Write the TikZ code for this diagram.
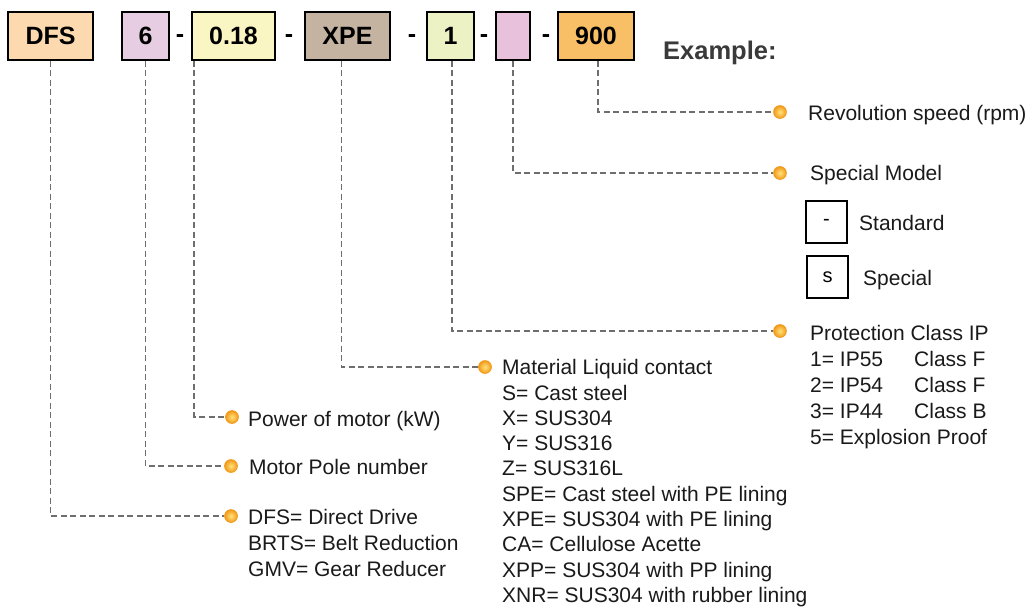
\documentclass[tikz,border=0pt]{standalone}
\usepackage{fontspec}
\setmainfont{Liberation Sans}
\usetikzlibrary{calc}
\definecolor{cDFS}{HTML}{FCD9AE}
\definecolor{cSix}{HTML}{E7CDE2}
\definecolor{cPow}{HTML}{FAF6C3}
\definecolor{cMat}{HTML}{C4B3A1}
\definecolor{cOne}{HTML}{ECF2C3}
\definecolor{cSpec}{HTML}{E8C2DD}
\definecolor{cRev}{HTML}{F8BF66}
\definecolor{connc}{HTML}{6E6E6E}
\definecolor{txtc}{HTML}{1A1A1A}
\definecolor{exc}{HTML}{3A3A3A}
\definecolor{dotin}{HTML}{FFE27A}
\definecolor{dotout}{HTML}{F29A1A}
\begin{document}
\begin{tikzpicture}[x=1pt,y=-1pt,
 codebox/.style={draw=black, line width=1.6pt, minimum height=48pt, inner sep=0pt, font=\fontsize{25}{29}\selectfont\bfseries},
 sepmark/.style={inner sep=0pt, anchor=base, font=\fontsize{25}{29}\selectfont\bfseries},
 conn/.style={draw=connc, line width=1.5pt, dash pattern=on 6pt off 3.5pt},
 dot/.style={circle, minimum size=13pt, inner sep=0pt, draw=dotout, line width=0.6pt, inner color=dotin, outer color=dotout},
 lbl/.style={inner sep=0pt, text=txtc, font=\fontsize{21}{25.8}\selectfont, align=left},
 optbox/.style={draw=black, line width=1.2pt, minimum width=41pt, minimum height=42pt, inner sep=0pt, font=\fontsize{20}{24}\selectfont}
]
\useasboundingbox[fill=white] (0,0) rectangle (1031,608);

% code boxes
\node[codebox, fill=cDFS, minimum width=85pt] (b1) at (50.5,36) {DFS};
\node[codebox, fill=cSix, minimum width=47pt] (b2) at (145.5,36) {6};
\node[codebox, fill=cPow, minimum width=83pt] (b3) at (233.5,36) {0.18};
\node[codebox, fill=cMat, minimum width=85pt] (b4) at (347.5,36) {XPE};
\node[codebox, fill=cOne, minimum width=47pt] (b5) at (450.5,36) {1};
\node[codebox, fill=cSpec, minimum width=34pt] (b6) at (513,36) {};
\node[codebox, fill=cRev, minimum width=76pt] (b7) at (596,36) {900};

% separators
\node[sepmark] (s1) at (180,42.5) {-};
\node[sepmark] (s2) at (289,42.5) {-};
\node[sepmark] (s3) at (412,42.5) {-};
\node[sepmark] (s4) at (484,42.5) {-};
\node[sepmark] (s5) at (546,42.5) {-};

\node[anchor=base west, inner sep=0pt, text=exc, font=\fontsize{25.5}{30}\selectfont\bfseries] (ex) at (663,59) {Example:};

% dots
\node[dot] (d1) at (231,516) {};
\node[dot] (d2) at (231,466) {};
\node[dot] (d3) at (232,417) {};
\node[dot] (d4) at (485,367) {};
\node[dot] (d5) at (780,331) {};
\node[dot] (d6) at (780,173) {};
\node[dot] (d7) at (780,112) {};

% connectors
\draw[conn] (b1.south) |- (d1);
\draw[conn] (b2.south) |- (d2);
\draw[conn] ([xshift=3pt]b3.south west) |- (d3);
\draw[conn] ([xshift=-6pt]b4.south) |- (d4);
\draw[conn] ([xshift=1.5pt]b5.south) |- (d5);
\draw[conn] (b6.south) |- (d6);
\draw[conn] ([xshift=2pt]b7.south) |- (d7);

% labels
\node[lbl, anchor=north west] (t1) at (248,506.4) {\strut DFS= Direct Drive\\BRTS= Belt Reduction\\GMV= Gear Reducer};
\node[lbl, anchor=base west] (t2) at (249,474.5) {Motor Pole number};
\node[lbl, anchor=base west] (t3) at (248,426.5) {Power of motor (kW)};
\node[lbl, anchor=north west, font=\fontsize{21}{25.3}\selectfont] (t4) at (502,356.8) {\strut Material Liquid contact\\S= Cast steel\\X= SUS304\\Y= SUS316\\Z= SUS316L\\SPE= Cast steel with PE lining\\XPE= SUS304 with PE lining\\CA= Cellulose Acette\\XPP= SUS304 with PP lining\\XNR= SUS304 with rubber lining};
\node[lbl, anchor=north west, font=\fontsize{21}{26}\selectfont] (t5) at (810,322) {\strut Protection Class IP\\\makebox[104pt][l]{1= IP55}Class F\\\makebox[104pt][l]{2= IP54}Class F\\\makebox[104pt][l]{3= IP44}Class B\\5= Explosion Proof};
\node[lbl, anchor=base west] (t6) at (810,180.5) {Special Model};
\node[lbl, anchor=base west] (t7) at (808,120.5) {Revolution speed (rpm)};

% special model options
\node[optbox] (o1) at (826.5,222) {-};
\node[optbox] (o2) at (827.5,277) {s};
\node[lbl, anchor=base west] (t8) at (859,230.5) {Standard};
\node[lbl, anchor=base west] (t9) at (863,285.5) {Special};
\end{tikzpicture}
\end{document}
